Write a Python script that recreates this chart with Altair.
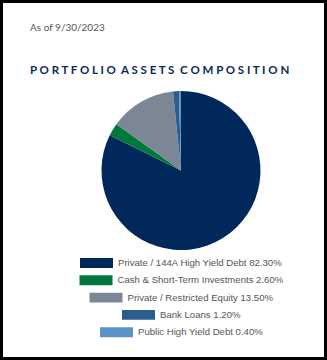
import altair as alt
import pandas as pd

categories = [
    "Private / 144A High Yield Debt",
    "Cash & Short-Term Investments",
    "Private / Restricted Equity",
    "Bank Loans",
    "Public High Yield Debt",
]
values = [82.30, 2.60, 13.50, 1.20, 0.40]
colors = ["#00285A", "#00783C", "#7B8794", "#2B5E8E", "#5A93C4"]

as_of = "As of 9/30/2023"
heading = "PORTFOLIO ASSETS COMPOSITION"

labels = [f"{c} {v:.2f}%" for c, v in zip(categories, values)]
df = pd.DataFrame({"order": range(len(categories)), "cat": categories,
                   "value": values, "label": labels})

NB = "\u00a0"
spaced = (NB * 2).join(NB.join(w) for w in heading.split(" "))

base = alt.Chart(df).transform_window(
    end="sum(value)", sort=[alt.SortField("order")], frame=[None, 0]
).transform_calculate(start="datum.end - datum.value")

rect_path = "M-3,-0.9H3V0.9H-3Z"

layers = []
for i, lab in enumerate(labels):
    layers.append(
        base.transform_filter(alt.datum.order == i)
        .mark_arc(x=179.5, y=169, radius=79.5)
        .encode(
            theta=alt.Theta("start:Q", scale=alt.Scale(domain=[0, 100])),
            theta2="end:Q",
            color=alt.Color(
                "label:N",
                scale=alt.Scale(domain=[lab], range=[colors[i]]),
                legend=alt.Legend(
                    title=None, orient="bottom", offset=-101,
                    symbolType=rect_path, symbolSize=121,
                    symbolStrokeWidth=0, symbolOpacity=1,
                    symbolOffset=47, labelOffset=16, labelLimit=400,
                    labelFont="Liberation Sans", labelFontSize=9.6,
                    labelColor="#555555", padding=0,
                ),
            ),
        )
    )

chart = (
    alt.layer(*layers)
    .resolve_scale(color="independent")
    .resolve_legend(color="independent")
    .properties(
        width=324, height=357,
        autosize=alt.AutoSizeParams(type="none"),
        padding=1.5,
        view=alt.ViewBackground(stroke="black", strokeWidth=3, fill="white"),
        title=alt.TitleParams(
            text=as_of, subtitle=spaced, anchor="start", frame="group",
            orient="top", offset=-75, dx=28.5,
            font="Lato", fontSize=10, fontWeight="normal", color="#555555",
            subtitleFont="Lato", subtitleFontSize=11.5, subtitleFontWeight="bold",
            subtitleColor="#0B2A52", subtitlePadding=32,
        ),
    )
    .configure(background="white")
)

chart = chart.configure_legend(
    layout={"expr": "{bottom: {anchor: 'middle', direction: 'vertical', center: true, margin: 6.3}}"}
)

chart.save("out.html", embed_options={"renderer": "svg", "actions": False})
